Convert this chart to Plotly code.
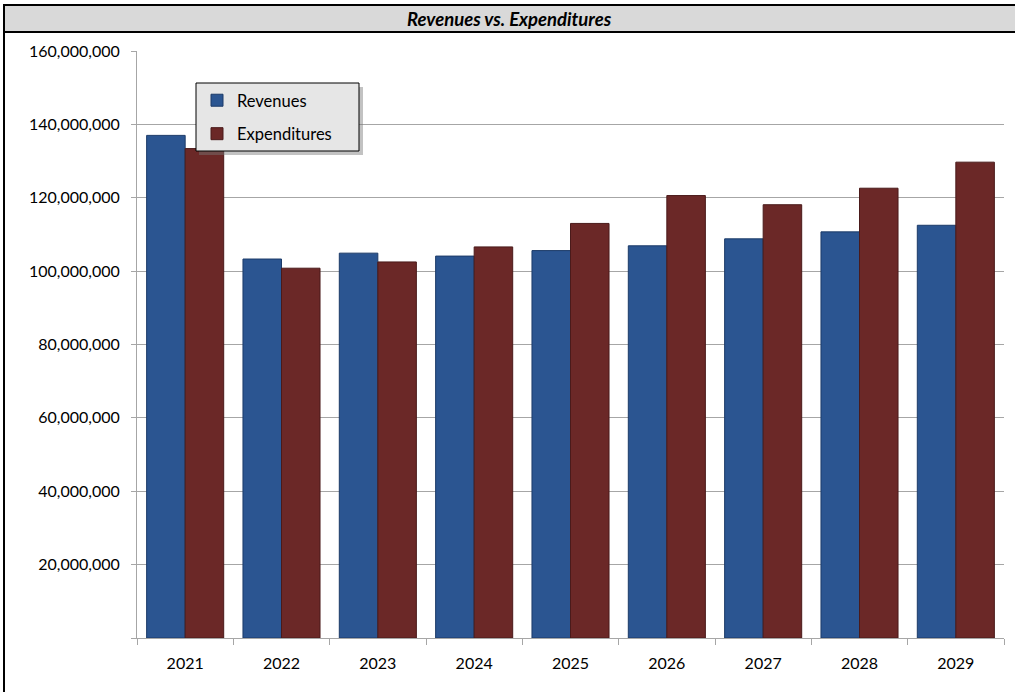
import plotly.graph_objects as go

years = ["2021", "2022", "2023", "2024", "2025", "2026", "2027", "2028", "2029"]
revenues = [137.0e6, 103.3e6, 104.9e6, 104.1e6, 105.6e6, 106.9e6, 108.8e6, 110.7e6, 112.5e6]
expenditures = [133.4e6, 100.8e6, 102.5e6, 106.6e6, 113.0e6, 120.6e6, 118.1e6, 122.6e6, 129.7e6]
y_ticks = [0, 20e6, 40e6, 60e6, 80e6, 100e6, 120e6, 140e6, 160e6]
y_tick_text = ["" if v == 0 else f"{int(v):,}" for v in y_ticks]
title = "Revenues vs. Expenditures"

W, H = 1015, 692
L, R, T, B = 137, 11, 51, 54
PW, PH = W - L - R, H - T - B


def px(x):
    return (x - L) / PW


def py(y):
    return (H - B - y) / PH


FONT = "Lato, Carlito, Calibri, 'Open Sans', sans-serif"

fig = go.Figure()
fig.add_trace(go.Bar(
    x=years, y=revenues, name="Revenues", legendgroup="a",
    marker=dict(color="#2b5591", line=dict(color="#1c3b68", width=1)),
))
fig.add_trace(go.Bar(
    x=years, y=expenditures, name="Expenditures", legendgroup="b",
    marker=dict(color="#6b2827", line=dict(color="#4a1a1a", width=1)),
))

shapes = [
    # title band
    dict(type="rect", xref="paper", yref="paper", x0=px(4), x1=px(1030), y0=py(32), y1=py(5),
         fillcolor="#d9d9d9", line=dict(width=0), layer="above"),
    dict(type="line", xref="paper", yref="paper", x0=px(4), x1=px(1030), y0=py(5), y1=py(5),
         line=dict(color="black", width=2), layer="above"),
    dict(type="line", xref="paper", yref="paper", x0=px(4), x1=px(1030), y0=py(32), y1=py(32),
         line=dict(color="black", width=2), layer="above"),
    # left border
    dict(type="line", xref="paper", yref="paper", x0=px(4), x1=px(4), y0=py(4), y1=py(700),
         line=dict(color="black", width=2), layer="above"),
    # legend shadow
    dict(type="rect", xref="paper", yref="paper", x0=px(199), x1=px(363), y0=py(155), y1=py(87),
         fillcolor="rgba(120,120,120,0.45)", line=dict(width=0), layer="above"),
    # legend box
    dict(type="rect", xref="paper", yref="paper", x0=px(196), x1=px(359), y0=py(151), y1=py(83),
         fillcolor="#e6e6e6", line=dict(color="black", width=1), layer="above"),
]

fig.update_layout(
    width=W, height=H,
    margin=dict(l=L, r=R, t=T, b=B),
    paper_bgcolor="white", plot_bgcolor="white",
    font=dict(family=FONT, size=16, color="black"),
    barmode="group", bargap=0.2, bargroupgap=0.0,
    shapes=shapes,
    annotations=[dict(text=f"<b><i>{title}</i></b>", xref="paper", yref="paper",
                      x=px(509), y=py(18.5), xanchor="center", yanchor="middle",
                      showarrow=False, font=dict(family=FONT, size=18.5, color="black"))],
    legend=dict(x=px(197), y=py(83), xanchor="left", yanchor="top",
                bgcolor="rgba(0,0,0,0)", borderwidth=0, tracegroupgap=9,
                font=dict(family=FONT, size=16.5, color="black"), traceorder="grouped"),
    showlegend=True,
)
fig.update_xaxes(
    showline=True, linecolor="#a6a6a6", linewidth=1,
    ticks="outside", tickson="boundaries", ticklen=6, tickcolor="#a6a6a6",
    showgrid=False, ticklabelstandoff=11,
)
fig.update_yaxes(
    range=[0, 160e6], tickvals=y_ticks, ticktext=y_tick_text,
    showline=True, linecolor="#a6a6a6", linewidth=1,
    ticks="outside", ticklen=5, tickcolor="#a6a6a6",
    showgrid=True, gridcolor="#a6a6a6", gridwidth=1,
    ticklabelstandoff=8, zeroline=False,
)

fig.write_html("out.html", config={"displayModeBar": False},
               post_script="document.body.style.margin='0';document.body.style.overflow='hidden';")
